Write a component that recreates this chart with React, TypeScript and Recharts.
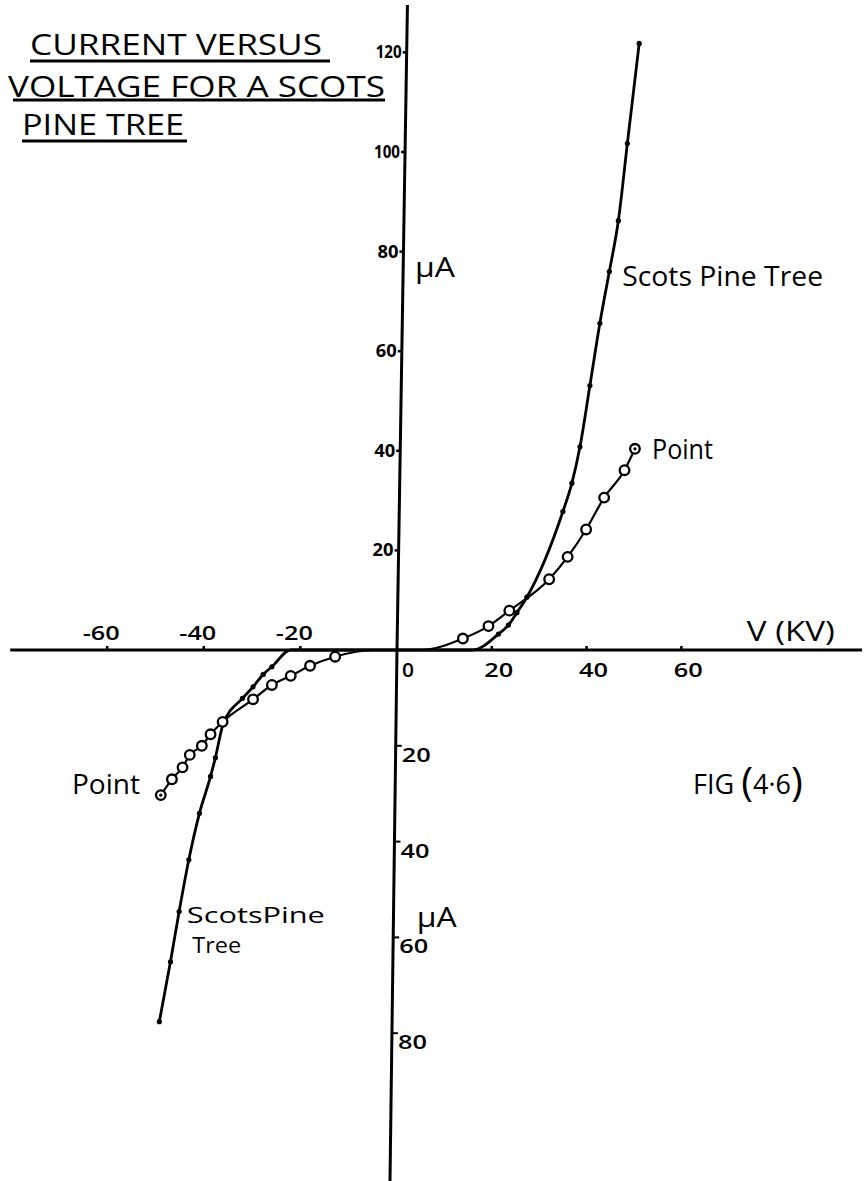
import { ComposedChart, Line, XAxis, YAxis, ReferenceLine, ReferenceDot } from "recharts";

// kV vs uA. right-hand branches use the "pos" axes,
// left/lower branches the "neg" axes (the hand drawn scale isn't quite even)
const pinePos = [
  { x: 0, y: 0 }, { x: 16, y: 0 }, { x: 21.4, y: 3.2 }, { x: 23.5, y: 5.0 },
  { x: 25.3, y: 7.5 }, { x: 27.4, y: 10.6 }, { x: 35.0, y: 27.8 }, { x: 36.9, y: 33.5 },
  { x: 38.6, y: 40.8 }, { x: 40.7, y: 53.1 }, { x: 42.8, y: 65.6 }, { x: 44.8, y: 76.0 },
  { x: 46.7, y: 86.2 }, { x: 48.6, y: 101.7 }, { x: 51.1, y: 121.8 },
];
const pineNeg = [
  { x: -49.2, y: -77.6 }, { x: -46.9, y: -65.1 }, { x: -45.1, y: -54.6 }, { x: -43.1, y: -43.8 },
  { x: -40.9, y: -34.1 }, { x: -38.6, y: -26.4 }, { x: -37.6, y: -22.5 }, { x: -36.0, y: -15.5 },
  { x: -32.0, y: -10.1 }, { x: -29.8, y: -7.7 }, { x: -27.7, y: -5.1 }, { x: -25.9, y: -3.5 },
  { x: -22, y: 0 }, { x: 0, y: 0 },
];
const pointPos = [
  { x: 0, y: 0 }, { x: 5, y: 0 }, { x: 13.9, y: 2.3 }, { x: 19.3, y: 4.8 }, { x: 23.7, y: 7.9 },
  { x: 32.1, y: 14.2 }, { x: 36.0, y: 18.7 }, { x: 39.9, y: 24.2 }, { x: 43.7, y: 30.6 },
  { x: 48.0, y: 36.1 }, { x: 50.2, y: 40.4 },
];
const pointNeg = [
  { x: -48.9, y: -30.3 }, { x: -46.6, y: -27.0 }, { x: -44.4, y: -24.5 }, { x: -42.9, y: -21.9 },
  { x: -40.4, y: -20.0 }, { x: -38.6, y: -17.6 }, { x: -36.1, y: -15.0 }, { x: -29.8, y: -10.3 },
  { x: -25.9, y: -7.3 }, { x: -22.0, y: -5.4 }, { x: -18.0, y: -3.3 }, { x: -12.8, y: -1.4 },
  { x: -5, y: 0 }, { x: 0, y: 0 },
];

const xTicksNeg = [-60, -40, -20];
const xTicksPos = [20, 40, 60];
const yTicksPos = [20, 40, 60, 80, 100, 120];
const yTicksNeg = [-20, -40, -60, -80];
const yTickLabelsNeg = ["20", "40", "60", "80"];
const titleLines = ["CURRENT VERSUS", "VOLTAGE FOR A SCOTS", "PINE TREE"];

const W = 867;
const H = 1181;
const FONT = "'Open Sans', 'DejaVu Sans', sans-serif";

const X_POS: [number, number] = [-83.76, 99.16];
const X_NEG: [number, number] = [-82.19, 97.31];
const Y_POS: [number, number] = [-106.63, 130.52];
const Y_NEG: [number, number] = [-110.86, 135.7];

// the vertical axis leans a little
const LEAN_POS = 2.2 / 129.5;
const LEAN_NEG = 1.45 / 111;

const pineDot = (p: any) => {
  if (p.payload.y === 0) return <g key={p.index} />;
  return <circle key={p.index} cx={p.cx} cy={p.cy} r={2.6} fill="#000" />;
};

const ringDot = (end: number) => (p: any) => {
  if (p.payload.y === 0) return <g key={p.index} />;
  return (
    <g key={p.index}>
      <circle cx={p.cx} cy={p.cy} r={4.8} fill="#fff" stroke="#000" strokeWidth={2.3} />
      {p.index === end && <circle cx={p.cx} cy={p.cy} r={1.6} fill="#000" />}
    </g>
  );
};

const label = (txt: string, size: number, len: number, weight = 500) => (p: any) => (
  <text x={p.cx} y={p.cy} fontFamily={FONT} fontSize={size} fontWeight={weight} fill="#000"
    textLength={len} lengthAdjust="spacingAndGlyphs">{txt}</text>
);

const tickText = (x: number, y: number, txt: string, len: number, anchor = "middle") => (
  <text x={x} y={y} textAnchor={anchor} fontFamily={FONT} fontSize={20} fontWeight={600}
    textLength={len} lengthAdjust="spacingAndGlyphs">{txt}</text>
);

export default function App() {
  return (
    <div style={{ position: "absolute", left: 0, top: 0, width: W, height: H, background: "#fff" }}>
      <ComposedChart width={W} height={H} margin={{ top: 0, right: 0, bottom: 0, left: 0 }}>
        <XAxis xAxisId="pos" type="number" dataKey="x" domain={X_POS} hide allowDataOverflow />
        <XAxis xAxisId="neg" type="number" dataKey="x" domain={X_NEG} hide allowDataOverflow />
        <YAxis yAxisId="pos" type="number" dataKey="y" domain={Y_POS} hide allowDataOverflow />
        <YAxis yAxisId="neg" type="number" dataKey="y" domain={Y_NEG} hide allowDataOverflow />

        {/* axes */}
        <ReferenceLine xAxisId="pos" yAxisId="pos" segment={[{ x: -81.6, y: 0 }, { x: 98.1, y: 0 }]}
          stroke="#000" strokeWidth={3} ifOverflow="visible" />
        <ReferenceLine xAxisId="pos" yAxisId="pos" segment={[{ x: 0, y: 0 }, { x: 2.2, y: 129.5 }]}
          stroke="#000" strokeWidth={3} ifOverflow="visible" />
        <ReferenceLine xAxisId="neg" yAxisId="neg" segment={[{ x: 0, y: 0 }, { x: -1.45, y: -111 }]}
          stroke="#000" strokeWidth={3} ifOverflow="visible" />

        {xTicksNeg.map((t) => (
          <ReferenceDot key={"xn" + t} xAxisId="neg" yAxisId="neg" x={t} y={0}
            shape={(p: any) => (
              <g>
                <line x1={p.cx} y1={p.cy - 4} x2={p.cx} y2={p.cy} stroke="#000" strokeWidth={2.5} />
                {tickText(p.cx - 6, p.cy - 10, String(t), 37)}
              </g>
            )} />
        ))}
        {xTicksPos.map((t) => (
          <ReferenceDot key={"xp" + t} xAxisId="pos" yAxisId="pos" x={t} y={0}
            shape={(p: any) => (
              <g>
                <line x1={p.cx} y1={p.cy - 4} x2={p.cx} y2={p.cy} stroke="#000" strokeWidth={2.5} />
                {tickText(p.cx + 7, p.cy + 27, String(t), 29)}
              </g>
            )} />
        ))}
        <ReferenceDot xAxisId="pos" yAxisId="pos" x={0} y={0}
          shape={(p: any) => tickText(p.cx + 11, p.cy + 27, "0", 12)} />
        {yTicksPos.map((t) => (
          <ReferenceDot key={"yp" + t} xAxisId="pos" yAxisId="pos" x={t * LEAN_POS} y={t}
            shape={(p: any) => (
              <g>
                <line x1={p.cx - 4} y1={p.cy} x2={p.cx} y2={p.cy} stroke="#000" strokeWidth={2.5} />
                <text x={p.cx - 5} y={p.cy + 6} textAnchor="end" fontFamily={FONT} fontSize={17} fontWeight={700}
                  textLength={t >= 100 ? 26 : 21} lengthAdjust="spacingAndGlyphs">{t}</text>
              </g>
            )} />
        ))}
        {yTicksNeg.map((t, i) => (
          <ReferenceDot key={"yn" + t} xAxisId="neg" yAxisId="neg" x={t * LEAN_NEG} y={t}
            shape={(p: any) => (
              <g>
                <line x1={p.cx} y1={p.cy} x2={p.cx + 6} y2={p.cy} stroke="#000" strokeWidth={2} />
                {tickText(p.cx + 6, p.cy + 16, yTickLabelsNeg[i], 29, "start")}
              </g>
            )} />
        ))}

        {/* curves */}
        <Line xAxisId="pos" yAxisId="pos" data={pinePos} dataKey="y" type="monotone" stroke="#000"
          strokeWidth={2.8} dot={pineDot} isAnimationActive={false} />
        <Line xAxisId="neg" yAxisId="neg" data={pineNeg} dataKey="y" type="monotone" stroke="#000"
          strokeWidth={2.8} dot={pineDot} isAnimationActive={false} />
        <Line xAxisId="pos" yAxisId="pos" data={pointPos} dataKey="y" type="monotone" stroke="#000"
          strokeWidth={2.2} dot={ringDot(pointPos.length - 1)} isAnimationActive={false} />
        <Line xAxisId="neg" yAxisId="neg" data={pointNeg} dataKey="y" type="monotone" stroke="#000"
          strokeWidth={2.2} dot={ringDot(0)} isAnimationActive={false} />

        {/* annotations */}
        <ReferenceDot xAxisId="pos" yAxisId="pos" x={47.5} y={73} shape={label("Scots Pine Tree", 27, 201)} />
        <ReferenceDot xAxisId="pos" yAxisId="pos" x={53.8} y={38.4} shape={label("Point", 28, 61)} />
        <ReferenceDot xAxisId="pos" yAxisId="pos" x={3.8} y={74.8} shape={label("\u03bcA", 27, 40)} />
        <ReferenceDot xAxisId="pos" yAxisId="pos" x={73.8} y={1.9} shape={label("V (KV)", 27, 88)} />
        <ReferenceDot xAxisId="neg" yAxisId="neg" x={-67.3} y={-30} shape={label("Point", 27, 68)} />
        <ReferenceDot xAxisId="neg" yAxisId="neg" x={-43.5} y={-57} shape={label("ScotsPine", 21, 138)} />
        <ReferenceDot xAxisId="neg" yAxisId="neg" x={-42.4} y={-63.2} shape={label("Tree", 21, 49)} />
        <ReferenceDot xAxisId="neg" yAxisId="neg" x={4.1} y={-57.8} shape={label("\u03bcA", 27, 40)} />
        <ReferenceDot xAxisId="neg" yAxisId="neg" x={61.3} y={-30} shape={(p: any) => (
          <text x={p.cx} y={p.cy} fontFamily={FONT} fontSize={27} fontWeight={500} fill="#000">
            FIG <tspan fontSize={40} dy={2}>(</tspan><tspan dy={-2}>4·6</tspan><tspan fontSize={40} dy={2}>)</tspan>
          </text>
        )} />
      </ComposedChart>

      <svg width={400} height={150} style={{ position: "absolute", left: 0, top: 0, pointerEvents: "none" }}>
        <g fontFamily={FONT} fontSize={30} fontWeight={500} fill="#000">
          <text x={30} y={55} textLength={292} lengthAdjust="spacingAndGlyphs">{titleLines[0]}</text>
          <text x={8} y={97} textLength={377} lengthAdjust="spacingAndGlyphs">{titleLines[1]}</text>
          <text x={22} y={135} textLength={162} lengthAdjust="spacingAndGlyphs">{titleLines[2]}</text>
        </g>
        <g stroke="#000" strokeWidth={3}>
          <line x1={30} y1={61} x2={330} y2={61} />
          <line x1={13} y1={100} x2={385} y2={100} />
          <line x1={22} y1={141} x2={187} y2={141} />
        </g>
      </svg>
    </div>
  );
}
